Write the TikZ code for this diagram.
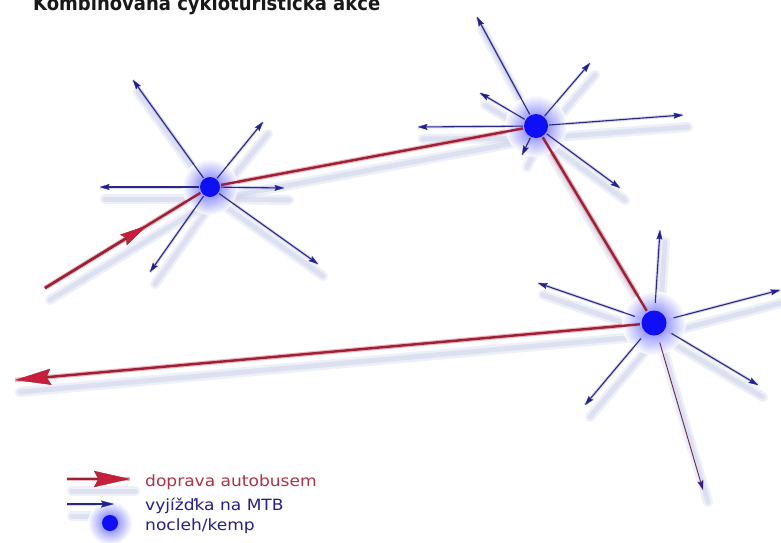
\documentclass[tikz,border=0pt]{standalone}
\usepackage{fontspec}
\setmainfont{DejaVu Sans}
\newfontfamily\legfont[FakeStretch=1.1]{DejaVu Sans}
\newfontfamily\ttlfont[FakeStretch=0.9]{DejaVu Sans Bold}
\usetikzlibrary{arrows.meta,calc}
\pgfdeclarelayer{bgwhite}
\pgfdeclarelayer{shadows}
\pgfdeclarelayer{lines}
\pgfsetlayers{bgwhite,shadows,lines,main}
\definecolor{busred}{RGB}{158,32,52}
\definecolor{busredlight}{RGB}{232,150,165}
\definecolor{headred}{RGB}{198,30,60}
\definecolor{mtbblue}{RGB}{45,40,130}
\definecolor{mtbglow}{RGB}{160,160,240}
\definecolor{tipblue}{RGB}{30,30,165}
\definecolor{dotblue}{RGB}{15,15,245}
\definecolor{shadowcol}{RGB}{180,188,225}
\definecolor{legred}{RGB}{178,48,72}
\definecolor{legblue}{RGB}{40,30,140}
\definecolor{bikered}{RGB}{110,40,75}
\definecolor{titlecol}{RGB}{25,25,25}
\begin{document}
\begin{tikzpicture}[x=1pt,y=-1pt,
  bus/.style={draw=busred, line width=2.4pt},
  busglow/.style={draw=busredlight, line width=4.6pt, opacity=0.7},
  mtb/.style={draw=mtbblue, line width=1.1pt,
    -{Stealth[length=9.5pt,width=6pt,inset=1.5pt,fill=tipblue,line width=0.3pt]}},
  mtbglow/.style={draw=mtbglow, line width=3pt, opacity=0.45},
  shadowA/.style={draw=shadowcol, line width=10pt, opacity=0.22, line cap=round},
  shadowB/.style={draw=shadowcol, line width=5pt, opacity=0.3, line cap=round},
  dotnode/.style={circle, inner sep=0pt, minimum size=#1},
  legtext/.style={anchor=base west, inner sep=0pt, font=\legfont\fontsize{15.5}{18}\selectfont},
  bighead/.style={-{Stealth[length=#1,width=0.45*#1,inset=0.12*#1,fill=headred,line width=0.4pt]}}
]
\useasboundingbox (0,0) rectangle (781,542);
\clip (0,0) rectangle (781,542);
\begin{pgfonlayer}{bgwhite}
\fill[white] (0,0) rectangle (781,542);
\end{pgfonlayer}

% title (cut off at the top edge, as in the reference)
\node[anchor=base west, inner sep=0pt, text=titlecol,
      font=\ttlfont\fontsize{20}{22}\selectfont] (title) at (33,10.5)
      {Kombinovaná cykloturistická akce};

% stop nodes
\node[dotnode=22pt] (A) at (210,187) {};
\node[dotnode=26pt] (B) at (536,126) {};
\node[dotnode=28pt] (C) at (654,323) {};
\node[dotnode=16pt] (ld) at (110,523) {};

% arrow end points
\coordinate (a1) at (133,80);
\coordinate (a2) at (263,122);
\coordinate (a3) at (100,187);
\coordinate (a4) at (284,188);
\coordinate (a5) at (150,272);
\coordinate (a6) at (318,264);
\coordinate (b1) at (477,17);
\coordinate (b2) at (590,63);
\coordinate (b3) at (480,93);
\coordinate (b4) at (418,127);
\coordinate (b5) at (683,115);
\coordinate (b6) at (522,155);
\coordinate (b7) at (620,188);
\coordinate (c1) at (660,230);
\coordinate (c2) at (538,283);
\coordinate (c3) at (780,290);
\coordinate (c4) at (758,385);
\coordinate (c5) at (585,405);
\coordinate (c6) at (703,490);
\coordinate (S) at (45,288);
\coordinate (M) at ($(S)!0.62!(A)$);
\coordinate (L) at (15,380);
\coordinate (lr0) at (67,479);
\coordinate (lr1) at (130,479);
\coordinate (lb0) at (67,504);
\coordinate (lb1) at (114,504);

% glows and shadows
\begin{pgfonlayer}{shadows}
\begin{scope}[transform canvas={shift={(5pt,-12pt)}}]
  \foreach \n/\t in {A/a1,A/a2,A/a3,A/a4,A/a5,A/a6,B/b1,B/b2,B/b3,B/b4,B/b5,B/b6,B/b7,
                     C/c1,C/c2,C/c3,C/c4,C/c5,C/c6,S/A,A/B,B/C,C/L,lr0/lr1,lb0/lb1}
    {\draw[shadowA] (\n) -- (\t); \draw[shadowB] (\n) -- (\t);}
\end{scope}
  \foreach \n/\t in {A/a1,A/a2,A/a3,A/a4,A/a5,A/a6,B/b1,B/b2,B/b3,B/b4,B/b5,B/b6,B/b7,
                     C/c1,C/c2,C/c3,C/c4,C/c5,lb0/lb1}
    {\draw[mtbglow] (\n) -- (\t);}
  \foreach \n/\t in {S/A,A/B,B/C,C/L,lr0/lr1}
    {\draw[busglow] (\n) -- (\t);}
\end{pgfonlayer}

% connectors
\begin{pgfonlayer}{lines}
  \foreach \n/\g in {A/28,B/31,C/32,ld/22}
    {\shade[inner color=dotblue!75, outer color=white, opacity=0.85] (\n.center) circle (\g);}
  \foreach \n/\t in {A/a1,A/a2,A/a3,A/a4,A/a5,A/a6,B/b1,B/b2,B/b3,B/b4,B/b5,B/b6,B/b7}
    {\draw[mtb] (\n) -- (\t);}
  \foreach \t in {c1,c2,c3,c4,c5}
    {\draw[mtb, shorten <=6pt] (C) -- (\t);}
  \draw[mtb, draw=bikered, line width=0.9pt, shorten <=6pt] (C) -- (c6);
  \draw[bus] (S) -- (A);
  \draw[bus, bighead=28pt] (S) -- (M);
  \draw[bus] (A) -- (B);
  \draw[bus] (B) -- (C);
  \draw[bus, bighead=36pt] (C) -- (L);
  % legend connectors
  \draw[bus, bighead=36pt] (lr0) -- (lr1);
  \draw[mtb, -{Stealth[length=13pt,width=7pt,inset=2pt,fill=tipblue,line width=0.3pt]}] (lb0) -- (lb1);
\end{pgfonlayer}

% dots
\foreach \n/\r in {A/10,B/12,C/12.5,ld/8}{
  \fill[dotblue] (\n.center) circle (\r);
}

% legend texts
\node[legtext, text=legred] (t1) at (145,486) {doprava autobusem};
\node[legtext, text=legblue] (t2) at (145,510) {vyjížďka na MTB};
\node[legtext, text=legblue] (t3) at (145,530) {nocleh/kemp};
\end{tikzpicture}
\end{document}
